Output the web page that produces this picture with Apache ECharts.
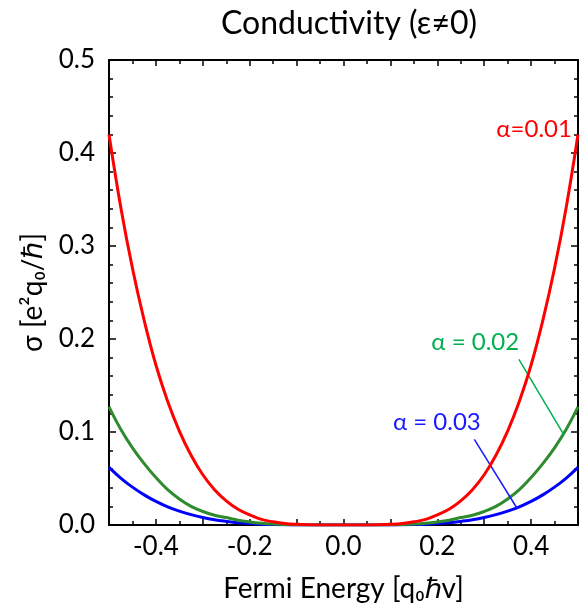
<!DOCTYPE html>
<html>
<head>
<meta charset="utf-8">
<script src="https://cdn.jsdelivr.net/npm/echarts@6/dist/echarts.min.js"></script>
<style>
html,body{margin:0;padding:0;background:#fff;}
#chart{width:581px;height:608px;}
</style>
</head>
<body>
<div id="chart"></div>
<script>
// ---- data ----
const titleText = 'Conductivity (ε≠0)';
const xName = 'Fermi Energy [q₀ℏv]';
const yName = 'σ [e²q₀/ℏ]';

const fermiEnergy = [-0.5,-0.475,-0.45,-0.425,-0.4,-0.375,-0.35,-0.325,-0.3,-0.275,-0.25,-0.225,-0.2,-0.175,-0.15,-0.125,-0.1,-0.075,-0.05,-0.025,0,
  0.025,0.05,0.075,0.1,0.125,0.15,0.175,0.2,0.225,0.25,0.275,0.3,0.325,0.35,0.375,0.4,0.425,0.45,0.475,0.5];

const sigmaA001 = [0.420,0.342,0.276,0.220,0.172,0.133,0.101,0.075,0.054,0.038,0.026,0.017,0.011,0.006,0.0034,0.0016,0.0007,0.0002,0.00004,0,0,
  0,0.00004,0.0002,0.0007,0.0016,0.0034,0.006,0.011,0.017,0.026,0.038,0.054,0.075,0.101,0.133,0.172,0.220,0.276,0.342,0.420];

const sigmaA002 = [0.127,0.103,0.083,0.066,0.051,0.038,0.028,0.020,0.0145,0.0105,0.008,0.0052,0.0033,0.0019,0.001,0.0005,0.0002,0,0,0,0,
  0,0,0,0.0002,0.0005,0.001,0.0019,0.0033,0.0052,0.008,0.0105,0.0145,0.020,0.028,0.038,0.051,0.066,0.083,0.103,0.127];

const sigmaA003 = [0.062,0.0505,0.0407,0.0324,0.0254,0.0196,0.0149,0.0111,0.008,0.0056,0.0039,0.0025,0.0016,0.0009,0.0005,0.0002,0.0001,0,0,0,0,
  0,0,0,0.0001,0.0002,0.0005,0.0009,0.0016,0.0025,0.0039,0.0056,0.008,0.0111,0.0149,0.0196,0.0254,0.0324,0.0407,0.0505,0.062];

const seriesNames = ['α=0.01', 'α = 0.02', 'α = 0.03'];
// annotation anchors in data coordinates
const labelAnchors = [[0.487, 0.425], [0.281, 0.197], [0.199, 0.111]];
const leaderGreen = [[0.374, 0.178], [0.470, 0.097]];
const leaderBlue = [[0.279, 0.092], [0.370, 0.018]];

const xTickLabels = ['-0.4', '-0.2', '0.0', '0.2', '0.4'];

// ---- styles ----
const FONT = 'Lato, "Open Sans", sans-serif';
const lineColors = ['#ff0000', '#2e8b2e', '#0000ff'];
const textColors = ['#ff0000', '#00b050', '#1a1aff'];

const pairs = ys => fermiEnergy.map((x, i) => [x, ys[i]]);

const chart = echarts.init(document.getElementById('chart'), null, {renderer: 'canvas'});

function fmtX(v) {
  const s = (Math.abs(v) < 1e-9 ? 0 : v).toFixed(1);
  return xTickLabels.indexOf(s) >= 0 ? s : '';
}

const axisLineStyle = {show: true, onZero: false, lineStyle: {color: '#000', width: 2}};
const tickStyle = {color: '#000', width: 1.5};

const option = {
  animation: false,
  backgroundColor: '#fff',
  title: {
    text: titleText, left: 344, top: 3, textAlign: 'center',
    textStyle: {fontFamily: FONT, fontSize: 32, fontWeight: 'normal', color: '#000'}
  },
  grid: {left: 109, right: 2, top: 60, bottom: 79, containLabel: false},
  xAxis: [
    {
      type: 'value', min: -0.5, max: 0.5, interval: 0.1, position: 'bottom',
      axisLine: axisLineStyle, splitLine: {show: false},
      name: xName, nameLocation: 'middle', nameGap: 50,
      nameTextStyle: {fontFamily: FONT, fontSize: 28, color: '#000'},
      axisTick: {show: true, inside: true, length: 6, lineStyle: tickStyle},
      minorTick: {show: true, splitNumber: 2, length: 4, lineStyle: tickStyle},
      axisLabel: {formatter: fmtX, fontFamily: FONT, fontSize: 26, color: '#000', margin: 9, showMinLabel: true, showMaxLabel: true}
    },
    {
      type: 'value', min: -0.5, max: 0.5, interval: 0.1, position: 'top',
      axisLine: axisLineStyle, splitLine: {show: false},
      axisTick: {show: true, inside: true, length: 6, lineStyle: tickStyle},
      minorTick: {show: true, splitNumber: 2, length: 4, lineStyle: tickStyle},
      axisLabel: {show: false}
    }
  ],
  yAxis: [
    {
      type: 'value', min: 0, max: 0.5, interval: 0.1, position: 'left',
      axisLine: axisLineStyle, splitLine: {show: false},
      name: yName, nameLocation: 'middle', nameGap: 62, nameRotate: 90,
      nameTextStyle: {fontFamily: FONT, fontSize: 28, color: '#000'},
      axisTick: {show: true, inside: true, length: 7, lineStyle: tickStyle},
      minorTick: {show: true, splitNumber: 5, length: 4, lineStyle: tickStyle},
      axisLabel: {formatter: v => v.toFixed(1), fontFamily: FONT, fontSize: 26, color: '#000', margin: 14}
    },
    {
      type: 'value', min: 0, max: 0.5, interval: 0.1, position: 'right',
      axisLine: axisLineStyle, splitLine: {show: false},
      axisTick: {show: true, inside: true, length: 7, lineStyle: tickStyle},
      minorTick: {show: true, splitNumber: 5, length: 4, lineStyle: tickStyle},
      axisLabel: {show: false}
    }
  ],
  series: [
    {
      name: seriesNames[2], type: 'line', data: pairs(sigmaA003), showSymbol: false,
      smooth: 0.4, z: 3,
      lineStyle: {color: lineColors[2], width: 3},
      markLine: {
        silent: true, symbol: 'none', animation: false,
        lineStyle: {color: textColors[2], width: 1.5, type: 'solid'}, label: {show: false},
        data: [[{coord: leaderBlue[0]}, {coord: leaderBlue[1]}]]
      }
    },
    {
      name: seriesNames[1], type: 'line', data: pairs(sigmaA002), showSymbol: false,
      smooth: 0.4, z: 4,
      lineStyle: {color: lineColors[1], width: 3},
      markLine: {
        silent: true, symbol: 'none', animation: false,
        lineStyle: {color: textColors[1], width: 1.5, type: 'solid'}, label: {show: false},
        data: [[{coord: leaderGreen[0]}, {coord: leaderGreen[1]}]]
      }
    },
    {
      name: seriesNames[0], type: 'line', data: pairs(sigmaA001), showSymbol: false,
      smooth: 0.4, z: 5,
      lineStyle: {color: lineColors[0], width: 3}
    }
  ]
};

chart.setOption(option);

// annotation texts placed through the chart's own scales
const aligns = ['right', 'center', 'center'];
const graphics = labelAnchors.map((pt, i) => {
  const p = chart.convertToPixel({xAxisIndex: 0, yAxisIndex: 0}, pt);
  return {
    type: 'text', x: p[0], y: p[1], z: 100,
    style: {
      text: seriesNames[i], fill: textColors[i], font: '24px ' + FONT,
      textAlign: aligns[i], textVerticalAlign: 'middle'
    }
  };
});
chart.setOption({graphic: graphics});
</script>
</body>
</html>
